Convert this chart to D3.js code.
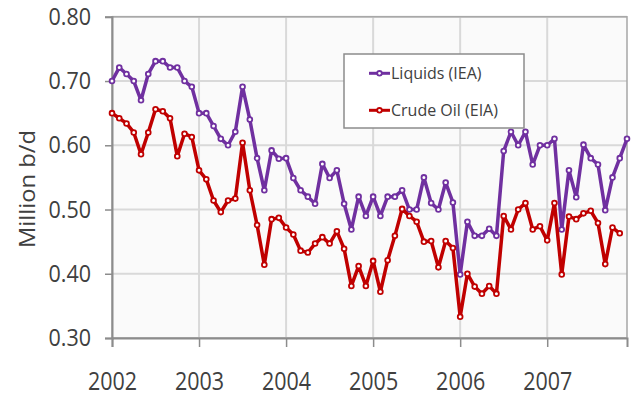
<!DOCTYPE html>
<html lang="en">
<head>
<meta charset="UTF-8">
<title>Liquids vs Crude Oil</title>
<script src="https://d3js.org/d3.v7.min.js"></script>
<style>
    body { margin: 0; background: #fff; }
    svg { display: block; font-family: "Open Sans", sans-serif; }
</style>
</head>
<body>
<div id="chart"></div>
<script>
    // monthly values, Jan 2002 onwards
    const liquids = [
        0.700, 0.721, 0.711, 0.700, 0.670, 0.711, 0.731, 0.731, 0.721, 0.721, 0.700, 0.691,
        0.650, 0.650, 0.630, 0.610, 0.600, 0.621, 0.691, 0.640, 0.580, 0.530, 0.592, 0.579,
        0.580, 0.549, 0.530, 0.520, 0.509, 0.571, 0.549, 0.561, 0.509, 0.469, 0.520, 0.490,
        0.520, 0.490, 0.520, 0.520, 0.530, 0.500, 0.500, 0.550, 0.510, 0.500, 0.542, 0.511,
        0.399, 0.481, 0.459, 0.459, 0.470, 0.459, 0.591, 0.621, 0.600, 0.621, 0.570, 0.600,
        0.600, 0.610, 0.469, 0.561, 0.519, 0.601, 0.580, 0.570, 0.499, 0.550, 0.580, 0.610
    ];
    const crude = [
        0.650, 0.642, 0.634, 0.620, 0.586, 0.620, 0.656, 0.653, 0.642, 0.583, 0.618, 0.613,
        0.561, 0.547, 0.514, 0.496, 0.514, 0.517, 0.604, 0.530, 0.476, 0.414, 0.485, 0.487,
        0.472, 0.461, 0.436, 0.433, 0.447, 0.457, 0.447, 0.466, 0.439, 0.381, 0.412, 0.381,
        0.420, 0.372, 0.421, 0.459, 0.501, 0.490, 0.481, 0.450, 0.451, 0.410, 0.451, 0.440,
        0.333, 0.400, 0.380, 0.369, 0.381, 0.369, 0.490, 0.469, 0.500, 0.510, 0.469, 0.474,
        0.452, 0.510, 0.399, 0.489, 0.485, 0.494, 0.498, 0.479, 0.415, 0.472, 0.463
    ];
    const yearLabels = ["2002", "2003", "2004", "2005", "2006", "2007"];
    const yTicks = [0.30, 0.40, 0.50, 0.60, 0.70, 0.80];
    const seriesNames = ["Liquids (IEA)", "Crude Oil (EIA)"];
    const seriesColors = ["#7030a0", "#c00000"];

    const width = 636, height = 396;
    const plotLeft = 112, plotRight = 627, plotTop = 16.8, plotBottom = 338;
    const font = "'Open Sans', sans-serif";

    const svg = d3.select("#chart").append("svg")
        .attr("width", width)
        .attr("height", height);

    const x = d3.scaleLinear().domain([0, 71]).range([plotLeft, plotRight]);
    const y = d3.scaleLinear().domain([0.3, 0.8]).range([plotBottom, plotTop]);

    // plot background
    svg.append("rect")
        .attr("x", plotLeft).attr("y", plotTop)
        .attr("width", plotRight - plotLeft).attr("height", plotBottom - plotTop)
        .attr("fill", "#fafafa");

    // grid
    svg.append("g").selectAll("line")
        .data(yTicks)
        .join("line")
        .attr("x1", plotLeft).attr("x2", plotRight)
        .attr("y1", d => y(d)).attr("y2", d => y(d))
        .attr("stroke", "#d9d9d9").attr("stroke-width", 2);

    svg.append("g").selectAll("line")
        .data(yearLabels.map((d, i) => i * 12).slice(1))
        .join("line")
        .attr("x1", d => x(d)).attr("x2", d => x(d))
        .attr("y1", plotTop).attr("y2", plotBottom)
        .attr("stroke", "#d9d9d9").attr("stroke-width", 2);

    // plot border
    svg.append("rect")
        .attr("x", plotLeft).attr("y", plotTop)
        .attr("width", plotRight - plotLeft).attr("height", plotBottom - plotTop)
        .attr("fill", "none")
        .attr("stroke", "#a6a6a6").attr("stroke-width", 1.5);

    // axes
    const xAxis = svg.append("g")
        .attr("transform", `translate(0,${plotBottom})`)
        .call(d3.axisBottom(x)
            .tickValues(yearLabels.map((d, i) => i * 12))
            .tickFormat((d, i) => yearLabels[i])
            .tickSize(9))
        .attr("font-family", font);
    xAxis.select(".domain").attr("stroke", "#8c8c8c").attr("stroke-width", 2);
    xAxis.selectAll(".tick line").attr("stroke", "#8c8c8c").attr("stroke-width", 1.5);
    xAxis.selectAll(".tick text")
        .attr("y", 45.2).attr("dy", 0)
        .attr("transform", "scale(1,1.15)")
        .attr("font-size", 21.5)
        .attr("fill", "#404040");

    const yAxis = svg.append("g")
        .attr("transform", `translate(${plotLeft},0)`)
        .call(d3.axisLeft(y)
            .tickValues(yTicks)
            .tickFormat(d3.format(".2f"))
            .tickSize(7)
            .tickPadding(14))
        .attr("font-family", font);
    yAxis.select(".domain").attr("stroke", "#8c8c8c").attr("stroke-width", 2);
    yAxis.selectAll(".tick line").attr("stroke", "#8c8c8c").attr("stroke-width", 1.5);
    yAxis.selectAll(".tick text")
        .attr("transform", "scale(1,1.1)")
        .attr("font-size", 21.5)
        .attr("fill", "#404040");

    svg.append("text")
        .attr("transform", "translate(35,189) scale(1,1.08) rotate(-90)")
        .attr("text-anchor", "middle")
        .attr("font-size", 22)
        .attr("fill", "#404040")
        .text("Million b/d");

    // series
    const line = d3.line()
        .x((d, i) => x(i))
        .y(d => y(d));

    [liquids, crude].forEach((values, s) => {
        const g = svg.append("g");
        g.append("path")
            .datum(values)
            .attr("d", line)
            .attr("fill", "none")
            .attr("stroke", seriesColors[s])
            .attr("stroke-width", 3.5)
            .attr("stroke-linejoin", "round");
        g.selectAll("circle")
            .data(values)
            .join("circle")
            .attr("cx", (d, i) => x(i))
            .attr("cy", d => y(d))
            .attr("r", 2.4)
            .attr("fill", "#fff")
            .attr("stroke", seriesColors[s])
            .attr("stroke-width", 1.8);
    });

    // legend
    const legend = svg.append("g");
    legend.append("rect")
        .attr("x", 344).attr("y", 54)
        .attr("width", 180).attr("height", 74)
        .attr("fill", "#fff")
        .attr("stroke", "#8c8c8c").attr("stroke-width", 1.5);

    const items = legend.selectAll(".item")
        .data(seriesNames)
        .join("g")
        .attr("class", "item")
        .attr("transform", (d, i) => `translate(369,${73.3 + i * 37})`);
    items.append("line")
        .attr("x1", 0).attr("x2", 21)
        .attr("stroke", (d, i) => seriesColors[i])
        .attr("stroke-width", 3);
    items.append("circle")
        .attr("cx", 10.5).attr("r", 2.3)
        .attr("fill", "#fff")
        .attr("stroke", (d, i) => seriesColors[i])
        .attr("stroke-width", 1.8);
    items.append("text")
        .attr("x", 22).attr("y", 6)
        .attr("font-size", 16)
        .attr("fill", "#404040")
        .text(d => d);
</script>
</body>
</html>
